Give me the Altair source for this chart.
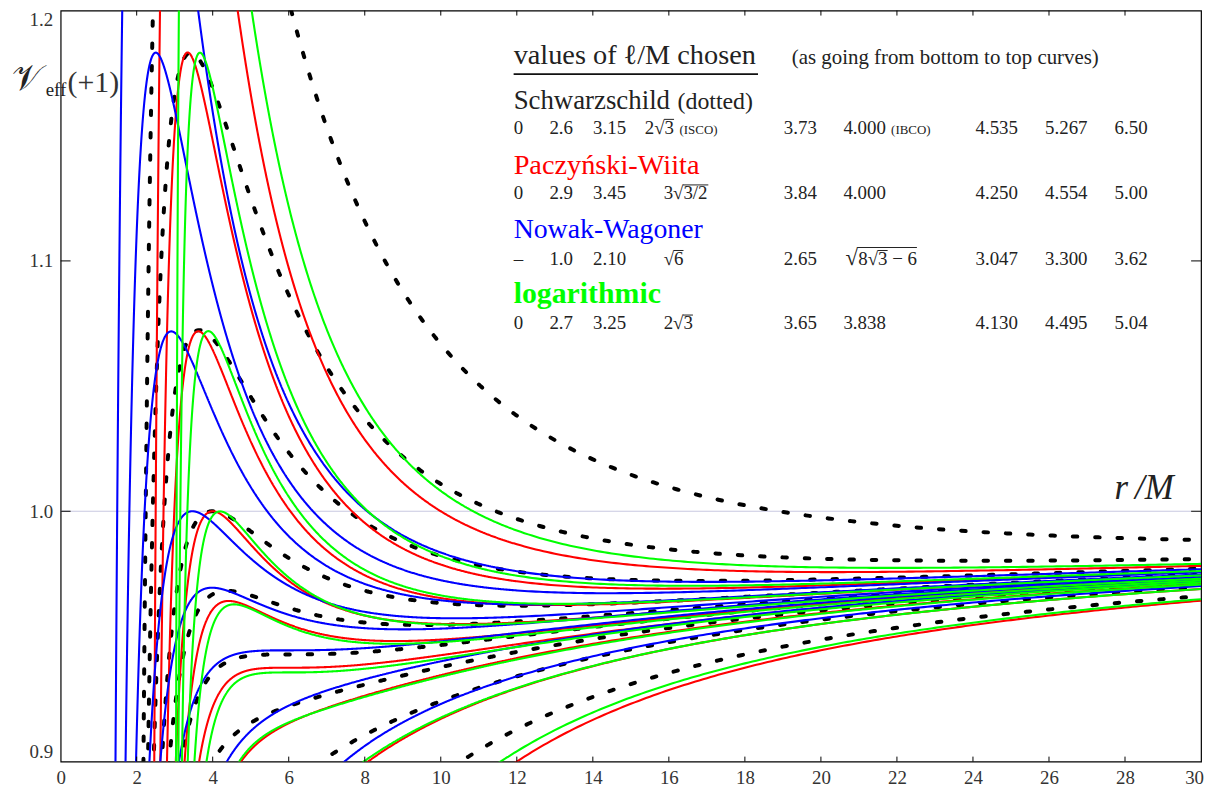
import numpy as np
import pandas as pd
import altair as alt

# ---- data: values of l/M chosen (bottom to top curves) ----
schw_l = [0.0, 2.6, 3.15, 2 * np.sqrt(3), 3.73, 4.000, 4.535, 5.267, 6.50]
pw_l = [0.0, 2.9, 3.45, 3 * np.sqrt(1.5), 3.84, 4.000, 4.250, 4.554, 5.00]
nw_l = [1.0, 2.10, np.sqrt(6), 2.65, np.sqrt(8 * np.sqrt(3) - 6), 3.047, 3.300, 3.62]
log_l = [0.0, 2.7, 3.25, 2 * np.sqrt(3), 3.65, 3.838, 4.130, 4.495, 5.04]

x_ticks = list(range(0, 31, 2))
y_ticks = [0.9, 1.0, 1.1, 1.2]

FONT = "Liberation Serif"
W, H = 1148, 756
L0, T0 = 61, 8  # page position of plot origin


def schw(r, l):
    return np.sqrt((1 - 2 / r) * (1 + l * l / r ** 2))


def pw(r, l):
    return 1 - 1 / (r - 2) + l * l / (2 * r ** 2)


def nw(r, l):
    return 1 - 1 / r + 3 / r ** 2 - 12 / r ** 3 + l * l / (2 * r ** 2)


def logp(r, l):
    return 1 + np.log(1 - 3 / r) / 3 + l * l / (2 * r ** 2)


def grid(r0):
    return np.concatenate([np.arange(r0, 6, 0.004), np.arange(6, 12, 0.02), np.arange(12, 30.0001, 0.1)])


frames = []
for fam, ls, f, r0 in [("schw", schw_l, schw, 2.0005), ("pw", pw_l, pw, 2.0005),
                       ("nw", nw_l, nw, 1.0), ("log", log_l, logp, 3.0005)]:
    r = grid(r0)
    for i, l in enumerate(ls):
        v = f(r, l)
        m = (v >= 0.88) & (v <= 1.22)
        keep = m.copy()
        keep[1:] |= m[:-1]
        keep[:-1] |= m[1:]
        frames.append(pd.DataFrame({
            "fam": fam, "cid": f"{fam}{i}",
            "r": np.round(r[keep], 4),
            "v": np.round(np.clip(v[keep], 0.86, 1.24), 5),
        }))
curves = pd.concat(frames, ignore_index=True)

xs = alt.Scale(domain=[0, 30], nice=False, zero=False)
ys = alt.Scale(domain=[0.9, 1.2], nice=False, zero=False)
XAX = alt.Axis(values=x_ticks[:-1], ticks=False, domain=False, grid=False, labelFont=FONT,
               labelFontSize=19, labelColor="#333", labelPadding=7, labelFlush=False, title=None)
YAX = alt.Axis(values=y_ticks, format=".1f", ticks=False, domain=False, grid=False, labelFont=FONT,
               labelFontSize=19, labelColor="#333", labelPadding=8, labelFlush=True, title=None)

base = alt.Chart(curves)


def curve_layer(fam, color, dashed=False):
    if dashed:
        mk = base.mark_line(color=color, strokeWidth=4, strokeDash=[4.5, 18], strokeCap="round", clip=True)
    else:
        mk = base.mark_line(color=color, strokeWidth=2.1, clip=True)
    return mk.encode(
        x=alt.X("r:Q", scale=xs, axis=XAX),
        y=alt.Y("v:Q", scale=ys, axis=YAX),
        detail="cid:N",
        order="r:Q",
    ).transform_filter(alt.datum.fam == fam)


one = alt.Data(values=[{}])

gridline = alt.Chart(one).mark_rule(color="#c8c8e0", strokeWidth=1).encode(
    y=alt.datum(1.0, scale=ys, axis=YAX), x=alt.value(0), x2=alt.value(W - 10))

xt = pd.DataFrame({"t": x_ticks[1:-1]})
yt = pd.DataFrame({"t": y_ticks[1:-1]})
tick_layers = [
    alt.Chart(xt).mark_rule(color="black", strokeWidth=1).encode(x=alt.X("t:Q", scale=xs, axis=XAX), y=alt.value(H), y2=alt.value(H - 5)),
    alt.Chart(xt).mark_rule(color="black", strokeWidth=1).encode(x=alt.X("t:Q", scale=xs, axis=XAX), y=alt.value(0), y2=alt.value(5)),
    alt.Chart(yt).mark_rule(color="black", strokeWidth=1).encode(y=alt.Y("t:Q", scale=ys, axis=YAX), x=alt.value(0), x2=alt.value(10)),
    alt.Chart(yt).mark_rule(color="black", strokeWidth=1).encode(y=alt.Y("t:Q", scale=ys, axis=YAX), x=alt.value(W), x2=alt.value(W - 10)),
]


def txt(s, px, py, size, color="#222", style="normal", weight="normal", font=FONT, align="left"):
    return alt.Chart(one).mark_text(
        text=s, align=align, baseline="alphabetic", font=font, fontSize=size,
        fontStyle=style, fontWeight=weight, color=color,
    ).encode(x=alt.value(px - L0), y=alt.value(py - T0))


def hline(x1, x2, py, w=1.0, color="#222"):
    return alt.Chart(one).mark_rule(color=color, strokeWidth=w).encode(
        x=alt.value(x1 - L0), x2=alt.value(x2 - L0), y=alt.value(py - T0))


RED, BLUE, GREEN = "#ff0000", "#0000ff", "#00ff00"
cols = [517, 553, 597, None, 789, 849, 982, 1052, 1122]
NS = 19
OV = 14.5  # overline height above baseline

texts = []
texts.append(txt("values of ℓ/M chosen", 517, 62, 28.5))
texts.append(hline(517, 763, 72, 1.6, "#111"))
texts.append(txt("(as going from bottom to top curves)", 797, 62, 21))

# Schwarzschild
texts.append(txt("Schwarzschild", 517, 107, 27))
texts.append(txt("(dotted)", 682, 107, 24))
row = ["0", "2.6", "3.15", None, "3.73", "4.000", "4.535", "5.267", "6.50"]
for s, c in zip(row, cols):
    if s:
        texts.append(txt(s, c, 132, NS))
texts.append(txt("2√3", 649, 132, NS))
texts.append(hline(668.5, 678.5, 132 - OV))
texts.append(txt("(ISCO)", 684, 132, 13))
texts.append(txt("(IBCO)", 897, 132, 13))

# Paczynski-Wiita
texts.append(txt("Paczyński-Wiita", 517, 172, 28.5, RED))
row = ["0", "2.9", "3.45", None, "3.84", "4.000", "4.250", "4.554", "5.00"]
for s, c in zip(row, cols):
    if s:
        texts.append(txt(s, c, 198, NS))
texts.append(txt("3√3/2", 668, 198, NS))
texts.append(hline(687.5, 713, 198 - OV))

# Nowak-Wagoner
texts.append(txt("Nowak-Wagoner", 517, 237, 28, BLUE))
row = ["–", "1.0", "2.10", None, "2.65", None, "3.047", "3.300", "3.62"]
for s, c in zip(row, cols):
    if s:
        texts.append(txt(s, c, 264, NS))
texts.append(txt("√6", 668, 264, NS))
texts.append(hline(678, 688, 264 - OV))
texts.append(txt("√", 851, 264, 23))
texts.append(txt("8√3 − 6", 864, 264, NS))
texts.append(hline(883.5, 893.5, 264 - OV))
texts.append(hline(863, 923, 264 - 17.5))

# logarithmic
texts.append(txt("logarithmic", 517, 302, 30, GREEN, weight="bold"))
row = ["0", "2.7", "3.25", None, "3.65", "3.838", "4.130", "4.495", "5.04"]
for s, c in zip(row, cols):
    if s:
        texts.append(txt(s, c, 329, NS))
texts.append(txt("2√3", 668, 329, NS))
texts.append(hline(687.5, 697.5, 329 - OV))

# axis titles and the last x tick label
texts.append(txt("𝒱", 12, 88, 36, "#222"))
texts.append(txt("eff", 46, 94, 19, "#222"))
texts.append(txt("(+1)", 68, 90, 30, "#333"))
texts.append(txt("r\u2009/M", 1122, 500, 35, "#222", style="italic"))
texts.append(txt(str(x_ticks[-1]), 1202.5, 787, 19, "#333", align="center"))

chart = alt.layer(
    gridline,
    curve_layer("schw", "#000000", dashed=True),
    curve_layer("pw", RED),
    curve_layer("nw", BLUE),
    curve_layer("log", GREEN),
    *tick_layers,
    *texts,
).properties(
    width=W, height=H,
    autosize=alt.AutoSizeParams(type="none"),
    padding={"left": L0 - 8, "top": T0 - 8, "right": 6, "bottom": 26},
).configure(background="white").configure_view(stroke="black", strokeWidth=1.2)

chart.save("out.html", embed_options={"renderer": "svg", "actions": False})
